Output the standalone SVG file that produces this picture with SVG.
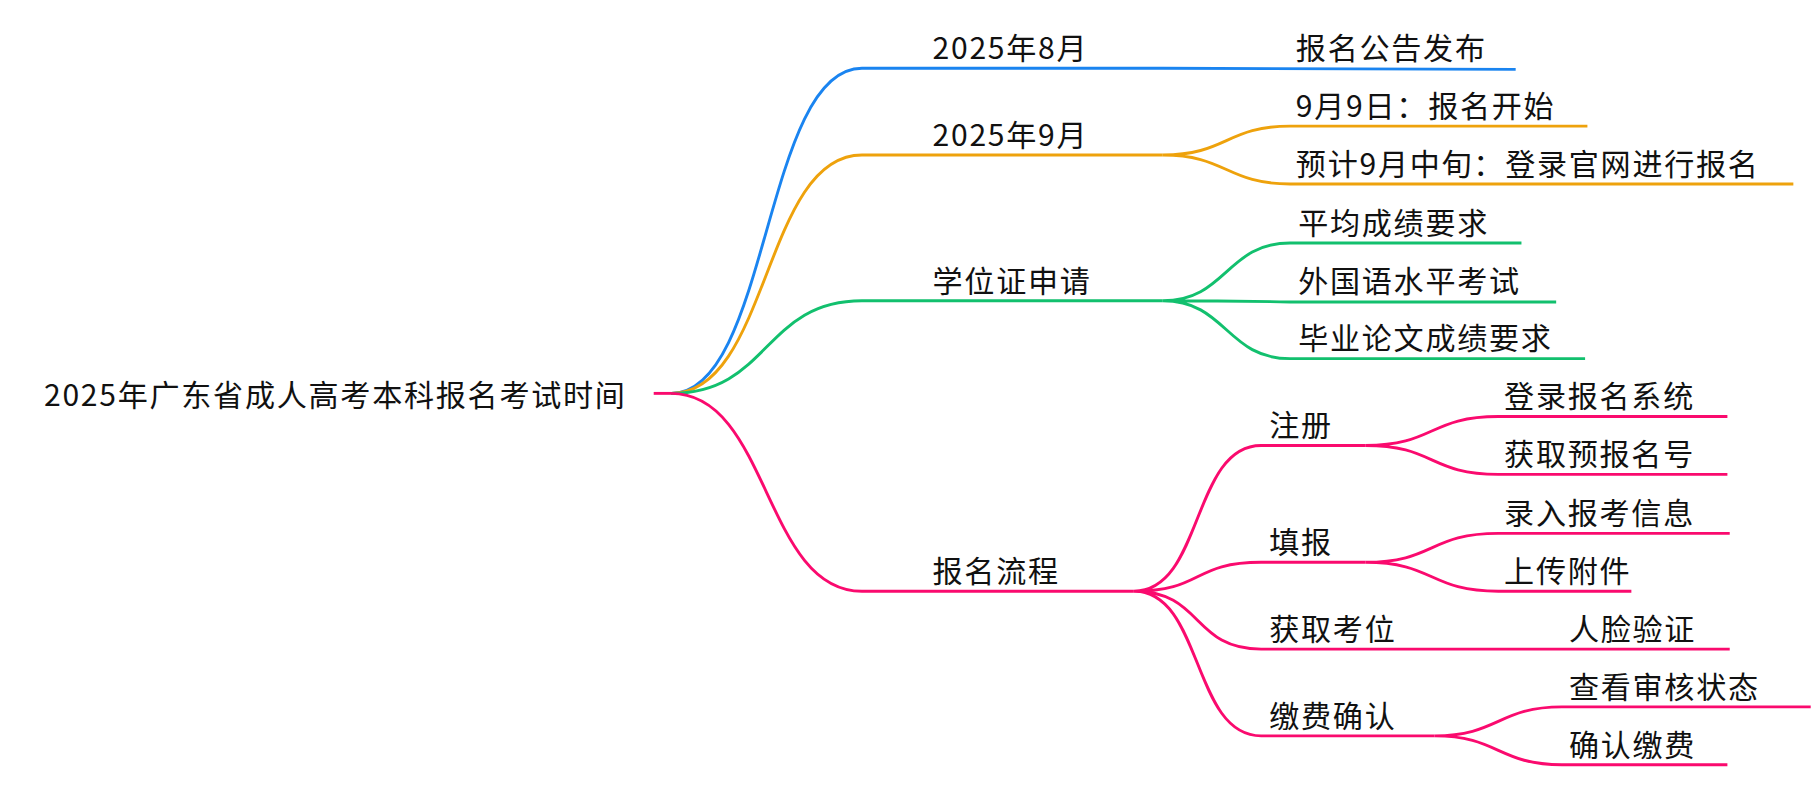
<svg xmlns="http://www.w3.org/2000/svg" width="1814" height="786" viewBox="0 0 1814 786">
<style>
text{font-family:"Noto Sans CJK SC","Noto Sans",sans-serif;font-size:26px;letter-spacing:1.5px;fill:#111}
path{fill:none;stroke-width:2.5}
.b{stroke:#1a84f0}.o{stroke:#eea20c}.g{stroke:#12c06e}.p{stroke:#fa0a6e}
</style>
<rect width="1814" height="786" fill="#fff"/>
<g transform="scale(1.157)">
<g id="connectors">
<path class="p" d="M565 340H580"/>
<path class="b" d="M580 340C665 340 660 59 745 59H1005L1310 60"/>
<path class="o" d="M580 340C665 340 660 134 745 134H1005"/>
<path class="o" d="M1005 134C1060 134 1060 109 1115 109H1372M1005 134C1060 134 1060 159 1115 159H1550"/>
<path class="g" d="M580 340C665 340 660 260 745 260H1005"/>
<path class="g" d="M1005 260C1060 260 1060 210 1115 210H1315M1005 260C1060 260 1060 260 1115 261H1345M1005 260C1060 260 1060 310 1115 310H1370"/>
<path class="p" d="M580 340C665 340 660 511 745 511H980"/>
<path class="p" d="M980 511C1040 511 1030 385 1090 385H1180M980 511C1040 511 1030 486 1090 486H1180M980 511C1040 511 1030 561 1090 561H1495M980 511C1040 511 1030 636 1090 636H1240"/>
<path class="p" d="M1180 385C1240 385 1235 360 1295 360H1493M1180 385C1240 385 1235 410 1295 410H1493"/>
<path class="p" d="M1180 486C1240 486 1235 461 1295 461H1495M1180 486C1240 486 1235 511 1295 511H1410"/>
<path class="p" d="M1240 636C1295 636 1295 611 1350 611H1565M1240 636C1295 636 1295 661 1350 661H1493"/>
</g>
<g id="root"><text x="38" y="351">2025年广东省成人高考本科报名考试时间</text></g>
<g id="n1"><text x="806" y="51">2025年8月</text></g>
<g id="n1a"><text x="1120" y="51">报名公告发布</text></g>
<g id="n2"><text x="806" y="126">2025年9月</text></g>
<g id="n2a"><text x="1120" y="101">9月9日：报名开始</text></g>
<g id="n2b"><text x="1120" y="151">预计9月中旬：登录官网进行报名</text></g>
<g id="n3"><text x="806" y="252">学位证申请</text></g>
<g id="n3a"><text x="1122" y="202">平均成绩要求</text></g>
<g id="n3b"><text x="1122" y="252">外国语水平考试</text></g>
<g id="n3c"><text x="1122" y="302">毕业论文成绩要求</text></g>
<g id="n4"><text x="806" y="503">报名流程</text></g>
<g id="n41"><text x="1097" y="377">注册</text></g>
<g id="n41a"><text x="1300" y="352">登录报名系统</text></g>
<g id="n41b"><text x="1300" y="402">获取预报名号</text></g>
<g id="n42"><text x="1097" y="478">填报</text></g>
<g id="n42a"><text x="1300" y="453">录入报考信息</text></g>
<g id="n42b"><text x="1300" y="503">上传附件</text></g>
<g id="n43"><text x="1097" y="553">获取考位</text></g>
<g id="n43a"><text x="1356" y="553">人脸验证</text></g>
<g id="n44"><text x="1097" y="628">缴费确认</text></g>
<g id="n44a"><text x="1356" y="603">查看审核状态</text></g>
<g id="n44b"><text x="1356" y="653">确认缴费</text></g>
</g>
</svg>
